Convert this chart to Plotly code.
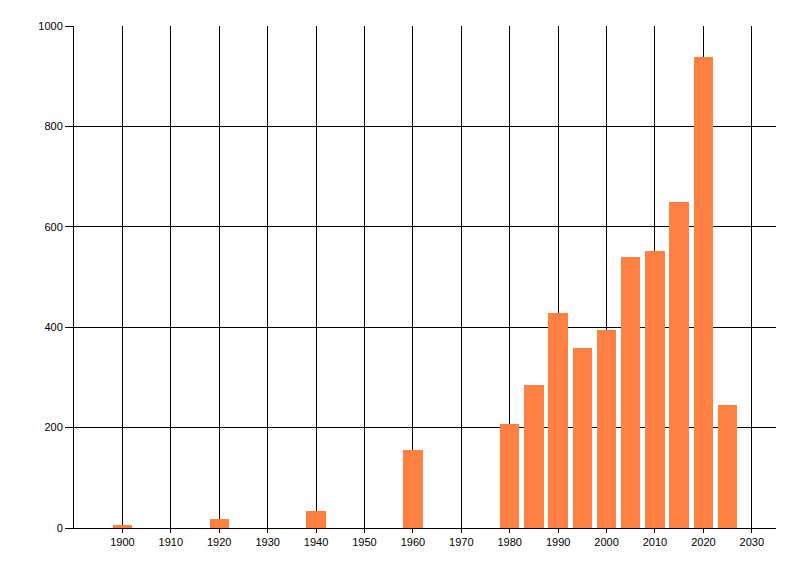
import plotly.graph_objects as go

years = [1900, 1920, 1940, 1960, 1980, 1985, 1990, 1995, 2000, 2005, 2010, 2015, 2020, 2025]
counts = [5, 18, 34, 155, 208, 284, 428, 358, 394, 540, 552, 650, 939, 246]
x_ticks = list(range(1900, 2031, 10))
x_labels = [str(v) for v in x_ticks]
y_ticks = [0, 200, 400, 600, 800, 1000]

fig = go.Figure(go.Bar(x=years, y=counts, width=4, marker=dict(color="#FF8040", line=dict(width=0))))

font = dict(family="Liberation Sans, Arial, sans-serif", size=11, color="black")
# page body has an 8px default margin, so the figure is offset by 8px
fig.update_layout(
    width=792, height=568,
    margin=dict(l=66, r=24, t=18, b=48, autoexpand=False),
    paper_bgcolor="white", plot_bgcolor="white",
    showlegend=False, font=font,
    xaxis=dict(range=[1890, 2035], tickvals=x_ticks, ticktext=x_labels,
               showgrid=True, gridcolor="black", gridwidth=1,
               showline=True, linecolor="black", linewidth=1, automargin=False,
               ticks="outside", ticklen=4, tickcolor="black", zeroline=False),
    yaxis=dict(range=[0, 1000], tickvals=y_ticks,
               showgrid=True, gridcolor="black", gridwidth=1,
               showline=True, linecolor="black", linewidth=1, automargin=False,
               ticks="outside", ticklen=8, tickcolor="black", zeroline=False),
    bargap=0,
)
fig.write_html("out.html")
